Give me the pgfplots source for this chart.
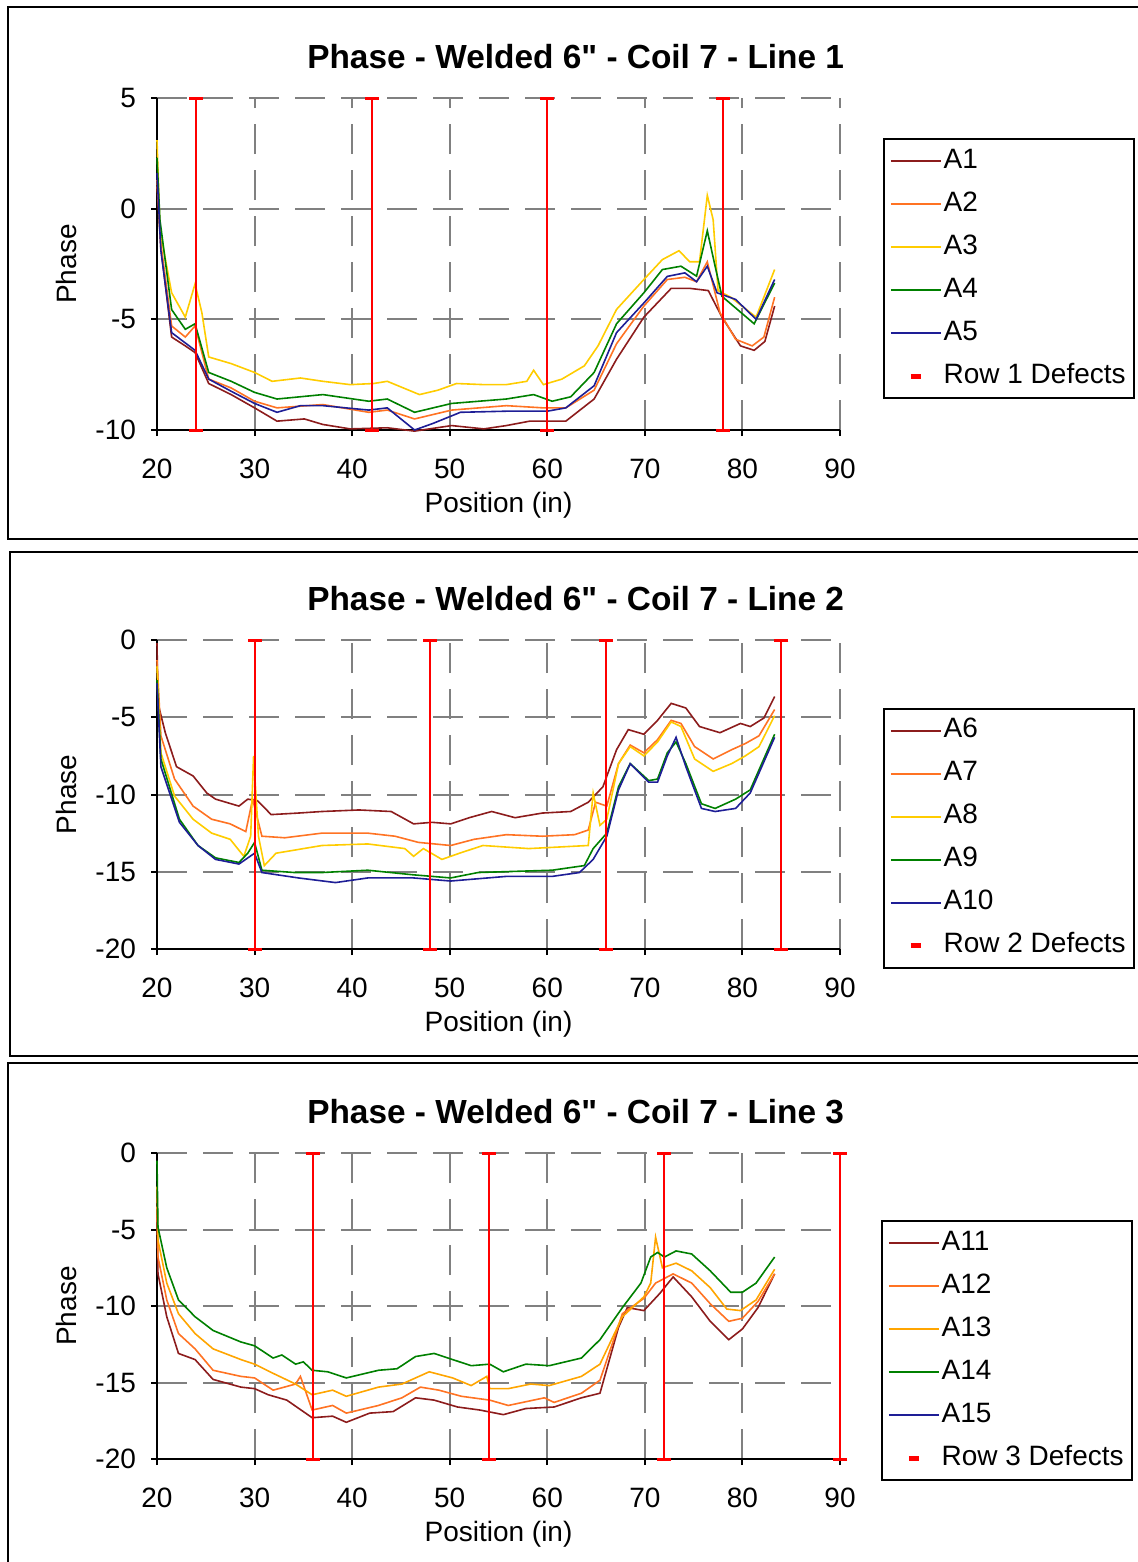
\documentclass[border=0pt]{standalone}
\usepackage{fontspec}
\setmainfont{Liberation Sans}[Ligatures=TeXOff]
\usepackage{pgfplots}
\pgfplotsset{compat=1.18}

\definecolor{cA}{RGB}{140,28,28}
\definecolor{cB}{RGB}{255,115,35}
\definecolor{cC}{RGB}{255,204,0}
\definecolor{cD}{RGB}{0,128,0}
\definecolor{cE}{RGB}{30,30,150}
\definecolor{cF}{RGB}{255,165,0}

\pgfplotsset{
  phase/.style={
    scale only axis, width=341.5pt,
    xmin=20, xmax=90, xtick={20,30,...,90},
    axis lines=left, axis line style={-, line width=1pt, black},
    grid=major, major grid style={gray, line width=1pt, dash pattern=on 15pt off 8pt},
    tick align=outside, major tick length=3pt, tick style={black, line width=1pt},
    ticklabel style={font=\fontsize{14}{16}\selectfont},
    xticklabel style={yshift=-8pt}, yticklabel style={xshift=-4pt},
    /pgf/number format/assume math mode=true,
    xlabel={Position (in)}, ylabel={Phase},
    label style={font=\fontsize{14}{16}\selectfont},
    xlabel style={at={(axis description cs:0.5,0)}, anchor=center, yshift=-37.5pt},
    ylabel style={at={(axis description cs:-0.1318,0.5)}, anchor=center},
    title style={at={(axis description cs:0.613,1)}, anchor=center, yshift=14.5pt,
      font=\bfseries\fontsize{16.7}{19}\selectfont},
    clip=false,
    every axis plot/.append style={line width=0.8pt},
    legend cell align=left,
    legend image code/.code={\draw[#1] (0pt,0pt) -- (25pt,0pt);},
    legend style={anchor=north west, draw=black, line width=1pt,
      font=\fontsize{14}{16}\selectfont, inner xsep=3pt, inner ysep=3.5pt,
      row sep=6.5pt, nodes={text height=10pt, text depth=3pt, inner sep=1pt}},
  },
  defect/.style={red, line width=1pt, mark=-, mark size=3.5pt,
    mark options={line width=1.5pt, solid}, forget plot},
}
\newcommand{\defectimage}{\addlegendimage{legend image code/.code={\draw[red, line width=2.5pt] (10pt,0pt) -- (15pt,0pt);}}}

\begin{document}
\begin{tikzpicture}
\useasboundingbox (0,0) rectangle (568.5pt,-781pt);
% panel frames
\draw[line width=1pt] (4.15pt,-3.75pt) rectangle (575pt,-269.25pt);
\draw[line width=1pt] (5pt,-275.75pt) rectangle (575pt,-527.75pt);
\draw[line width=1pt] (4.15pt,-531.35pt) rectangle (575pt,-790pt);

% ---------- Line 1 ----------
\begin{axis}[phase, at={(78.5pt,-215pt)}, anchor=south west, height=166pt,
  ymin=-10, ymax=5, ytick={-10,-5,0,5},
  title={Phase - Welded 6" - Coil 7 - Line 1},
  legend style={at={(1.063,0.8795)}}]
\addplot[cA] coordinates {(20,1.0)(20.4,-1.8)(21.5,-5.8)(22.9,-6.2)(23.9,-6.5)(25.3,-7.9)(27.6,-8.4)(30,-9.0)(32.3,-9.6)(35.1,-9.5)(37,-9.75)(39.8,-9.95)(43.6,-9.9)(46.4,-10.05)(50.2,-9.8)(53.5,-9.95)(55.8,-9.8)(58.2,-9.6)(61.9,-9.6)(64.8,-8.6)(67.1,-6.8)(69.9,-4.9)(72.7,-3.6)(74.6,-3.6)(76.5,-3.7)(77.9,-4.9)(79.8,-6.2)(81.2,-6.4)(82.3,-6.0)(83.3,-4.4)};
\addplot[cB] coordinates {(20,1.3)(20.4,-1.6)(21.5,-5.3)(22.9,-5.8)(23.9,-5.3)(25.3,-7.7)(27.6,-8.1)(30,-8.7)(32.3,-9.0)(37,-8.85)(41.7,-9.2)(43.6,-9.1)(46.4,-9.5)(50.2,-9.1)(55.8,-8.9)(59.6,-9.0)(61.9,-9.0)(64.8,-8.2)(67.1,-6.1)(69.9,-4.4)(72.3,-3.2)(74.1,-3.1)(75.3,-3.3)(76.4,-2.4)(77.7,-4.7)(79.3,-5.9)(81,-6.2)(82.2,-5.8)(83.3,-4.0)};
\addplot[cC] coordinates {(20,3.1)(20.3,-0.95)(21.5,-3.8)(22.9,-4.9)(23.9,-3.4)(24.6,-4.7)(25.3,-6.7)(27.6,-7.0)(30,-7.4)(31.8,-7.8)(34.7,-7.65)(37,-7.8)(39.8,-7.95)(42.2,-7.9)(43.6,-7.8)(46.9,-8.4)(48.8,-8.2)(50.7,-7.9)(53.5,-7.95)(55.8,-7.95)(57.9,-7.8)(58.6,-7.3)(59.6,-7.95)(61.5,-7.7)(63.8,-7.1)(65.2,-6.2)(67.1,-4.55)(69.9,-3.2)(71.8,-2.3)(73.5,-1.9)(74.6,-2.4)(75.6,-2.4)(76.4,0.6)(77,-0.5)(77.5,-3.7)(78.8,-4.0)(81.4,-4.9)(83.3,-2.75)};
\addplot[cD] coordinates {(20,2.3)(20.3,-0.5)(21.5,-4.56)(22.9,-5.45)(23.9,-5.2)(25.3,-7.4)(27.6,-7.8)(30,-8.3)(32.3,-8.6)(37,-8.4)(41.7,-8.7)(43.6,-8.6)(46.4,-9.2)(50.2,-8.8)(55.8,-8.6)(58.6,-8.4)(60.5,-8.7)(62.4,-8.5)(64.8,-7.4)(67.1,-5.2)(69.9,-3.8)(71.8,-2.75)(73.7,-2.6)(75.3,-3.05)(76.4,-1.0)(77.2,-2.6)(77.9,-3.96)(81.2,-5.2)(83.3,-3.36)};
\addplot[cE] coordinates {(20,1.6)(20.4,-1.9)(21.5,-5.6)(23.9,-6.4)(25.3,-7.7)(27.6,-8.25)(30,-8.8)(32.3,-9.2)(34.7,-8.9)(37,-8.9)(41.7,-9.1)(43.6,-9.0)(46.4,-10.0)(48.3,-9.7)(51.1,-9.2)(55.8,-9.15)(60,-9.15)(61.9,-9.0)(64.8,-8.0)(67.1,-5.6)(69.9,-4.26)(72.3,-3.06)(74.1,-2.9)(75.3,-3.3)(76.4,-2.6)(77.4,-3.8)(79.3,-4.1)(81.4,-5.0)(83.3,-3.2)};
\addplot[defect] coordinates {(24,-10)(24,5)};
\addplot[defect] coordinates {(42,-10)(42,5)};
\addplot[defect] coordinates {(60,-10)(60,5)};
\addplot[defect] coordinates {(78,-10)(78,5)};
\legend{A1,A2,A3,A4,A5}
\defectimage
\addlegendentry{Row 1 Defects}
\end{axis}

% ---------- Line 2 ----------
\begin{axis}[phase, at={(78.5pt,-474.5pt)}, anchor=south west, height=154.5pt,
  ymin=-20, ymax=0, ytick={-20,-15,...,0},
  title={Phase - Welded 6" - Coil 7 - Line 2},
  legend style={at={(1.063,0.78)}}]
\addplot[cA] coordinates {(20,-0.2)(20.1,-4.1)(20.85,-6.0)(22,-8.2)(23.7,-8.8)(25.1,-9.9)(26,-10.3)(28.4,-10.75)(29.3,-10.3)(30.3,-10.4)(31.7,-11.3)(34.5,-11.2)(36.9,-11.1)(40.7,-11.0)(44,-11.1)(46.3,-11.9)(48.2,-11.8)(50.1,-11.9)(52,-11.5)(54.3,-11.1)(56.7,-11.5)(59.5,-11.2)(62.4,-11.1)(64.2,-10.5)(65.7,-9.5)(67.1,-7.1)(68.3,-5.8)(69.9,-6.1)(71.3,-5.2)(72.7,-4.1)(74.2,-4.4)(75.6,-5.6)(77.7,-6.0)(79.8,-5.4)(80.8,-5.6)(82.2,-5.05)(83.3,-3.66)};
\addplot[cB] coordinates {(20,-1.3)(20.4,-6.2)(21.8,-9.0)(23.7,-10.75)(25.6,-11.6)(27.5,-11.9)(29.1,-12.4)(29.8,-10.3)(30.75,-12.7)(33.1,-12.8)(36.9,-12.5)(41.6,-12.5)(44.4,-12.7)(46.8,-13.1)(50.1,-13.3)(52.5,-12.9)(55.8,-12.6)(59.5,-12.7)(62.8,-12.6)(64.2,-12.3)(64.95,-10.5)(66.1,-10.75)(67.3,-8.0)(68.5,-6.8)(69.9,-7.3)(71.3,-6.45)(72.7,-5.2)(73.7,-5.4)(75.1,-6.9)(77,-7.7)(78.9,-7.1)(80.3,-6.7)(81.7,-6.2)(83.3,-4.5)};
\addplot[cC] coordinates {(20,-1.7)(20.4,-7.3)(21.8,-10.1)(23.7,-11.6)(25.6,-12.5)(27.5,-12.9)(28.9,-14.0)(29.6,-12.7)(29.9,-7.5)(30.4,-12.7)(31,-14.6)(32.2,-13.8)(36.9,-13.3)(41.6,-13.2)(45.4,-13.5)(46.3,-14.0)(47.3,-13.5)(49.2,-14.2)(51,-13.8)(53.4,-13.3)(58.1,-13.5)(64.2,-13.3)(64.7,-9.9)(65.4,-12.0)(66.1,-11.6)(67.3,-8.0)(68.5,-6.9)(69.9,-7.5)(71.3,-6.6)(72.7,-5.3)(73.7,-5.6)(75.1,-7.7)(77,-8.5)(78.9,-8.0)(80.3,-7.5)(81.7,-6.9)(83.3,-4.9)};
\addplot[cD] coordinates {(20,-2.6)(20.4,-7.7)(22.3,-11.6)(24.2,-13.3)(26,-14.1)(28.4,-14.4)(29.3,-13.8)(30,-13.1)(30.75,-14.9)(34.1,-15.05)(36.9,-15.05)(41.6,-14.9)(46.3,-15.2)(50.1,-15.4)(52.9,-15.05)(60.5,-14.9)(63.8,-14.6)(64.7,-13.5)(66.1,-12.5)(67.3,-9.5)(68.5,-8.0)(70.4,-9.1)(71.3,-9.0)(72.3,-7.3)(73.2,-6.6)(74.2,-8.0)(75.8,-10.6)(77.2,-10.9)(79.3,-10.3)(80.8,-9.7)(83.3,-6.1)};
\addplot[cE] coordinates {(20,-2.8)(20.4,-8.2)(22.3,-11.8)(24.2,-13.3)(26,-14.2)(28.4,-14.5)(30,-13.8)(30.75,-15.05)(34.5,-15.4)(38.3,-15.7)(41.6,-15.4)(46.3,-15.4)(50.1,-15.6)(55.8,-15.3)(60.5,-15.3)(63.3,-15.05)(64.7,-14.2)(66.1,-12.7)(67.3,-9.7)(68.5,-8.0)(70.4,-9.2)(71.3,-9.2)(72.3,-7.5)(73.2,-6.3)(74.2,-8.2)(75.8,-10.9)(77.2,-11.1)(79.3,-10.9)(80.8,-9.9)(83.3,-6.3)};
\addplot[defect] coordinates {(30,-20)(30,0)};
\addplot[defect] coordinates {(48,-20)(48,0)};
\addplot[defect] coordinates {(66,-20)(66,0)};
\addplot[defect] coordinates {(84,-20)(84,0)};
\legend{A6,A7,A8,A9,A10}
\defectimage
\addlegendentry{Row 2 Defects}
\end{axis}

% ---------- Line 3 ----------
\begin{axis}[phase, at={(78.5pt,-729.5pt)}, anchor=south west, height=153pt,
  ymin=-20, ymax=0, ytick={-20,-15,...,0},
  title={Phase - Welded 6" - Coil 7 - Line 3},
  legend style={at={(1.06,0.781)}}]
\addplot[cA] coordinates {(20,-4.2)(20.1,-7.9)(21,-10.7)(22.2,-13.1)(23.9,-13.5)(25.75,-14.8)(28.6,-15.3)(30,-15.4)(31.4,-15.8)(33.3,-16.15)(35.9,-17.3)(38,-17.2)(39.4,-17.6)(41.8,-17.0)(44.2,-16.9)(46.5,-16.0)(48.4,-16.15)(50.8,-16.6)(53.1,-16.8)(55.5,-17.1)(57.8,-16.7)(60.7,-16.6)(63.5,-16.0)(65.4,-15.7)(67.3,-11.4)(68.2,-10.1)(69.9,-10.3)(71.5,-9.2)(72.9,-8.1)(74.8,-9.4)(76.7,-11.0)(78.6,-12.2)(80,-11.5)(81.6,-10.1)(83.3,-7.9)};
\addplot[cB] coordinates {(20,-3.5)(20.1,-6.8)(21,-9.6)(22.2,-11.8)(23.9,-12.8)(25.75,-14.2)(28.6,-14.6)(30,-14.7)(31.9,-15.5)(34.2,-15.1)(34.7,-14.6)(35.9,-16.8)(38,-16.5)(39.4,-17.0)(42.7,-16.5)(45.1,-16.0)(47,-15.3)(48.9,-15.5)(51.2,-15.9)(54.1,-16.15)(56,-16.5)(59.7,-16.0)(60.7,-16.3)(63.5,-15.7)(65.4,-14.85)(67.7,-10.5)(69.9,-9.5)(71.1,-8.5)(72.9,-7.9)(74.8,-8.5)(76.7,-9.85)(78.6,-11.0)(80,-10.8)(81.6,-9.7)(83.3,-7.9)};
\addplot[cF] coordinates {(20,-2.2)(20.1,-5.7)(21,-8.5)(22.2,-10.5)(23.9,-11.8)(25.75,-12.8)(28.6,-13.5)(30,-13.8)(31.9,-14.4)(34.2,-15.1)(35.9,-15.8)(38,-15.5)(39.4,-15.9)(42.7,-15.3)(45.1,-15.1)(47.9,-14.3)(50.3,-14.7)(52.2,-15.2)(53.8,-14.6)(54.1,-15.4)(56,-15.4)(58.3,-15.1)(60.2,-15.2)(63.5,-14.6)(65.4,-13.8)(67.7,-10.7)(69.9,-9.4)(70.6,-8.5)(71.1,-5.5)(71.8,-7.5)(73.2,-7.2)(74.8,-7.7)(76.7,-8.8)(78.4,-10.2)(79.8,-10.3)(81.4,-9.6)(83.3,-7.6)};
\addplot[cD] coordinates {(20,-0.5)(20.1,-4.85)(21,-7.5)(22.2,-9.6)(23.9,-10.7)(25.75,-11.6)(28.6,-12.35)(30,-12.6)(31.9,-13.4)(32.8,-13.2)(34.2,-13.8)(35,-13.65)(35.9,-14.2)(37.5,-14.3)(39.4,-14.7)(42.7,-14.2)(44.6,-14.1)(46.5,-13.3)(48.4,-13.1)(50.3,-13.5)(52.2,-13.9)(54.1,-13.8)(55.5,-14.3)(57.8,-13.8)(60.2,-13.9)(63.5,-13.4)(65.4,-12.2)(67.7,-10.1)(69.6,-8.5)(70.6,-6.8)(71.3,-6.5)(72,-6.8)(73.2,-6.4)(74.8,-6.6)(76.7,-7.7)(78.8,-9.1)(80,-9.1)(81.4,-8.5)(83.3,-6.8)};
\addplot[defect] coordinates {(36,-20)(36,0)};
\addplot[defect] coordinates {(54,-20)(54,0)};
\addplot[defect] coordinates {(72,-20)(72,0)};
\addplot[defect] coordinates {(90,-20)(90,0)};
\legend{A11,A12,A13,A14}
\addlegendimage{cE}
\addlegendentry{A15}
\defectimage
\addlegendentry{Row 3 Defects}
\end{axis}
\end{tikzpicture}
\end{document}
